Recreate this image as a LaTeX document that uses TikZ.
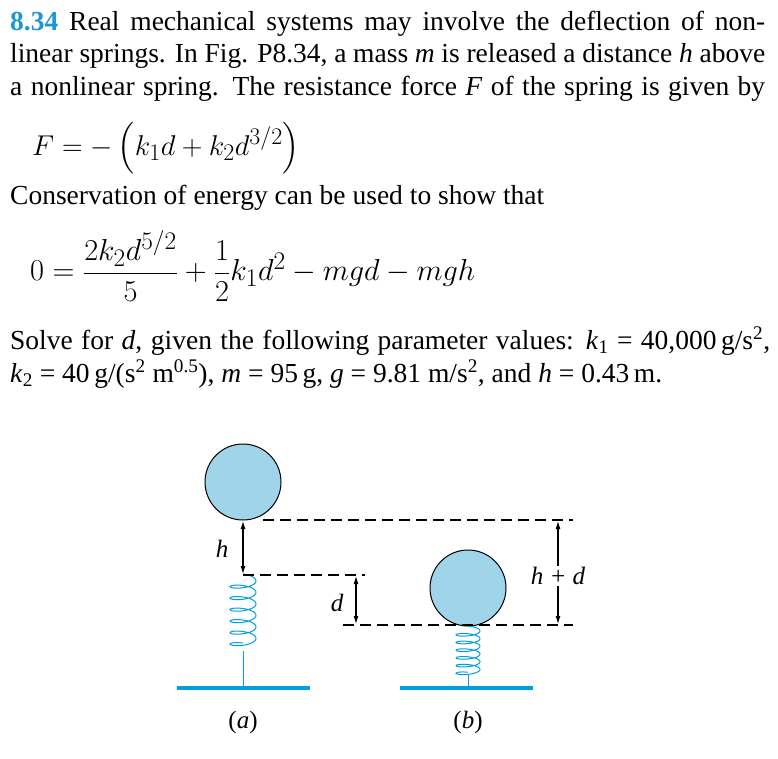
\documentclass[tikz,border=0pt]{standalone}
\usepackage{amsmath}
\usepackage{fontspec}
\setmainfont{Liberation Serif}
\usetikzlibrary{arrows.meta}
\definecolor{ballblue}{RGB}{160,212,232}
\definecolor{springblue}{RGB}{0,160,220}
\definecolor{numblue}{RGB}{30,150,210}
\newcommand{\vi}[1]{\textit{#1}}
\tikzset{
  line/.style={anchor=base west,inner sep=0pt,font=\fontsize{27.5}{30}\selectfont},
  ball/.style={circle,draw=black,line width=1pt,fill=ballblue,minimum size=76pt,inner sep=0pt},
  ground/.style={springblue,line width=4pt},
  spr/.style={springblue,line width=1pt},
  dashln/.style={dashed,dash pattern=on 11pt off 6pt,line width=1.1pt},
  dim/.style={{Latex[length=8pt,width=5pt]}-{Latex[length=8pt,width=5pt]},line width=1.1pt},
  lab/.style={font=\fontsize{25}{28}\selectfont\itshape,inner sep=1pt}
}
\begin{document}
\begin{tikzpicture}[x=1pt,y=-1pt]
\useasboundingbox (0,0) rectangle (778,758);
\node[line] (l1) at (10,30) {\makebox[755pt][s]{\textcolor{numblue}{\textbf{8.34}} Real mechanical systems may involve the deflection of non-}};
\node[line] (l2) at (10,62) {\makebox[755pt][s]{linear springs. In Fig. P8.34, a mass \textit{m} is released a distance \textit{h} above}};
\node[line] (l3) at (10,95) {\makebox[755pt][s]{a nonlinear spring. The resistance force \textit{F} of the spring is given by}};
\node[line] (e1) at (32,155) {\scalebox{1.15}{$F = -\left(k_1 d + k_2 d^{3/2}\right)$}};
\node[line] (l4) at (10,204) {Conservation of energy can be used to show that};
\node[line,anchor=west] (e2) at (30,266) {\scalebox{1.22}{$0 = \dfrac{2k_2 d^{5/2}}{5} + \dfrac{1}{2}k_1 d^2 - mgd - mgh$}};
\node[line] (l5) at (10,349) {\makebox[760pt][s]{Solve for \vi{d}, given the following parameter values: \vi{k}\textsubscript{1} = 40,000\,g/s\textsuperscript{2},}};
\node[line] (l6) at (10,382) {\vi{k}\textsubscript{2} = 40\,g/(s\textsuperscript{2} m\textsuperscript{0.5}), \vi{m} = 95\,g, \vi{g} = 9.81 m/s\textsuperscript{2}, and \vi{h} = 0.43\,m.};

% figure (a)
\node[ball] (ma) at (243,482) {};
\draw[spr] plot[domain=0:6,samples=200,variable=\t] ({243+13*sin(\t*360)},{578+11.5*\t-4*cos(\t*360)});
\draw[spr] (243,651) -- (243,686);
\draw[ground] (177,688) -- (310,688);
\node[lab] (la) at (243,722) {\upshape(\itshape a\upshape)};

% figure (b)
\node[ball] (mb) at (468,588) {};
\draw[spr] plot[domain=0:6,samples=200,variable=\t] ({468+12*sin(\t*360)},{629+7.7*\t-3*cos(\t*360)});
\draw[spr] (468,675) -- (468,686);
\draw[ground] (400,688) -- (533,688);
\node[lab] (lb) at (468,722) {\upshape(\itshape b\upshape)};

% dimension lines
\coordinate (t1) at (263,520); \coordinate (t2) at (573,520);
\coordinate (m1) at (243,575); \coordinate (m2) at (365,575);
\coordinate (b1) at (343,625); \coordinate (b2) at (573,625);
\draw[dashln] (t1) -- (t2);
\draw[dashln] (m1) -- (m2);
\draw[dashln] (b1) -- (b2);
\coordinate (ha) at (243,521); \coordinate (hb) at (243,574);
\draw[dim] (ha) -- (hb);
\node[lab] (hl) at (222,549) {h};
\coordinate (da) at (356,576); \coordinate (db) at (356,624);
\draw[dim] (da) -- (db);
\node[lab] (dl) at (337,603) {d};
\node[lab,fill=white] (hd) at (558,576) {h + d};
\coordinate (hda) at (558,521); \coordinate (hdb) at (558,624);
\draw[dim,-{Latex[length=8pt,width=5pt]}] (hd.north) -- (hda);
\draw[dim,-{Latex[length=8pt,width=5pt]}] (hd.south) -- (hdb);
\end{tikzpicture}
\end{document}
